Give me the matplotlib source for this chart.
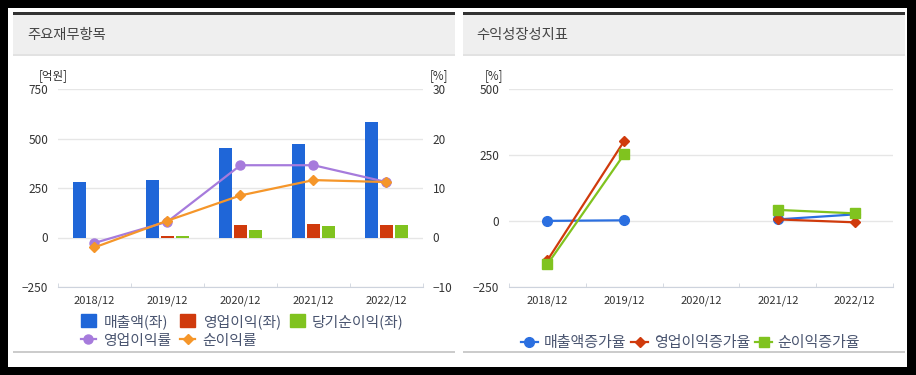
import numpy as np
import matplotlib.pyplot as plt
from matplotlib.patches import Rectangle, Patch
from matplotlib.lines import Line2D

plt.rcParams['font.family'] = ['Noto Sans CJK KR', 'DejaVu Sans']

years = ["2018/12", "2019/12", "2020/12", "2021/12", "2022/12"]

# 주요재무항목 (억원, 좌축)
sales = [281, 288, 450, 470, 582]
op_income = [-3, 9, 64, 68, 64]
net_income = [-5, 10, 37, 56, 62]
# (%, 우축)
op_margin = [-1.1, 3.2, 14.6, 14.6, 11.2]
net_margin = [-2.0, 3.4, 8.5, 11.6, 11.2]

# 수익성장성지표 (%)
sales_growth = [0.5, 2.6, np.nan, 6, 25]
op_growth = [-149, 303, np.nan, 6, -5]
net_growth = [-164, 253, np.nan, 42, 29]

BLUE = "#1f66d8"
RED = "#d03a0c"
GREEN = "#80c31f"
PURPLE = "#a67bdc"
ORANGE = "#f5962a"
TXT = "#333333"
LEG = "#4a5570"

W, H = 916, 375
fig = plt.figure(figsize=(W / 100, H / 100), dpi=100, facecolor="black")


def fx(px):
    return px / W


def fy(py):
    return 1 - py / H


def rect(x0, y0, x1, y1, color):
    fig.patches.append(Rectangle((fx(x0), fy(y1)), fx(x1) - fx(x0), fy(y0) - fy(y1),
                                 transform=fig.transFigure, facecolor=color,
                                 edgecolor="none", zorder=-5))


# background and panel frames
rect(8, 8, 907, 367, "white")
for x0, x1 in [(13, 455), (463, 905)]:
    rect(x0, 12.5, x1, 15, "#333333")
    rect(x0, 15, x1, 55, "#efefef")
    rect(x0, 54.5, x1, 55.5, "#e2e2e2")
    rect(x0, 351, x1, 353, "#cccccc")

fig.text(fx(27), fy(35), "주요재무항목", fontsize=10.3, va="center", color="#444444")
fig.text(fx(476), fy(35), "수익성장성지표", fontsize=10.3, va="center", color="#444444")


def style(ax, ymin, ymax, step):
    ax.set_xlim(-0.5, 4.5)
    ax.set_ylim(ymin, ymax)
    ax.set_yticks(np.arange(ymin, ymax + 1, step))
    ax.set_facecolor("none")
    for s in ["left", "right", "top"]:
        ax.spines[s].set_visible(False)
    ax.spines["bottom"].set_color("#cdd3dd")
    ax.grid(axis="y", color="#e6e6e6", lw=1)
    ax.set_axisbelow(True)
    ax.tick_params(axis="y", length=0, pad=7, labelsize=8.5, labelcolor=TXT)
    ax.set_xticks(range(len(years)))
    ax.set_xticklabels(years)
    ax.set_xticks(np.arange(-0.5, len(years), 1), minor=True)
    ax.tick_params(axis="x", which="major", length=0, pad=6, labelsize=8, labelcolor=TXT)
    ax.tick_params(axis="x", which="minor", length=3, direction="in", color="#cdd3dd")


# left chart
ax = fig.add_axes([fx(58), fy(287), (423 - 58) / W, (287 - 89) / H])
style(ax, -250, 750, 250)
x = np.arange(len(years))
ax.bar(x - 0.205, sales, width=0.17, color=BLUE, zorder=2)
ax.bar(x, op_income, width=0.17, color=RED, zorder=2)
ax.bar(x + 0.205, net_income, width=0.17, color=GREEN, zorder=2)

ax2 = ax.twinx()
ax2.set_ylim(-10, 30)
ax2.set_yticks([-10, 0, 10, 20, 30])
for s in ["left", "right", "top", "bottom"]:
    ax2.spines[s].set_visible(False)
ax2.tick_params(axis="y", length=0, pad=7, labelsize=8.5, labelcolor=TXT)
ax2.plot(x, op_margin, color=PURPLE, lw=1.6, marker="o", ms=6.5, zorder=3)
ax2.plot(x, net_margin, color=ORANGE, lw=1.6, marker="D", ms=5, zorder=4)

fig.text(fx(53), fy(76), "[억원]", ha="center", va="center", fontsize=8.3, color=TXT)
fig.text(fx(439), fy(76), "[%]", ha="center", va="center", fontsize=8.3, color=TXT)

h_left = [Patch(color=BLUE),
          Line2D([], [], color=PURPLE, lw=1.6, marker="o", ms=6.5),
          Patch(color=RED),
          Line2D([], [], color=ORANGE, lw=1.6, marker="D", ms=5),
          Patch(color=GREEN)]
l_left = ["매출액(좌)", "영업이익률", "영업이익(좌)", "순이익률", "당기순이익(좌)"]
fig.legend(h_left, l_left, loc="upper left", bbox_to_anchor=(fx(81), fy(314)), ncol=3,
           frameon=False, fontsize=10.7, handlelength=1.0, handleheight=0.95,
           handletextpad=0.5, columnspacing=0.6, labelspacing=0.32, borderpad=0,
           borderaxespad=0, labelcolor=LEG)

# right chart
bx = fig.add_axes([fx(509), fy(287), (893 - 509) / W, (287 - 89) / H])
style(bx, -250, 500, 250)
bx.plot(x, sales_growth, color="#2b6fe0", lw=1.6, marker="o", ms=7, zorder=3)
bx.plot(x, op_growth, color=RED, lw=1.6, marker="D", ms=5, zorder=4)
bx.plot(x, net_growth, color=GREEN, lw=1.6, marker="s", ms=6.5, zorder=5)
fig.text(fx(494), fy(76), "[%]", ha="center", va="center", fontsize=8.3, color=TXT)

h_right = [Line2D([], [], color="#2b6fe0", lw=1.6, marker="o", ms=7),
           Line2D([], [], color=RED, lw=1.6, marker="D", ms=5),
           Line2D([], [], color=GREEN, lw=1.6, marker="s", ms=6.5)]
l_right = ["매출액증가율", "영업이익증가율", "순이익증가율"]
fig.legend(h_right, l_right, loc="upper left", bbox_to_anchor=(fx(521), fy(336)), ncol=3,
           frameon=False, fontsize=10.8, handlelength=1.1, handletextpad=0.4,
           columnspacing=0.35, borderpad=0, borderaxespad=0, labelcolor=LEG)

fig.savefig("out.png", dpi=100, facecolor="black")
